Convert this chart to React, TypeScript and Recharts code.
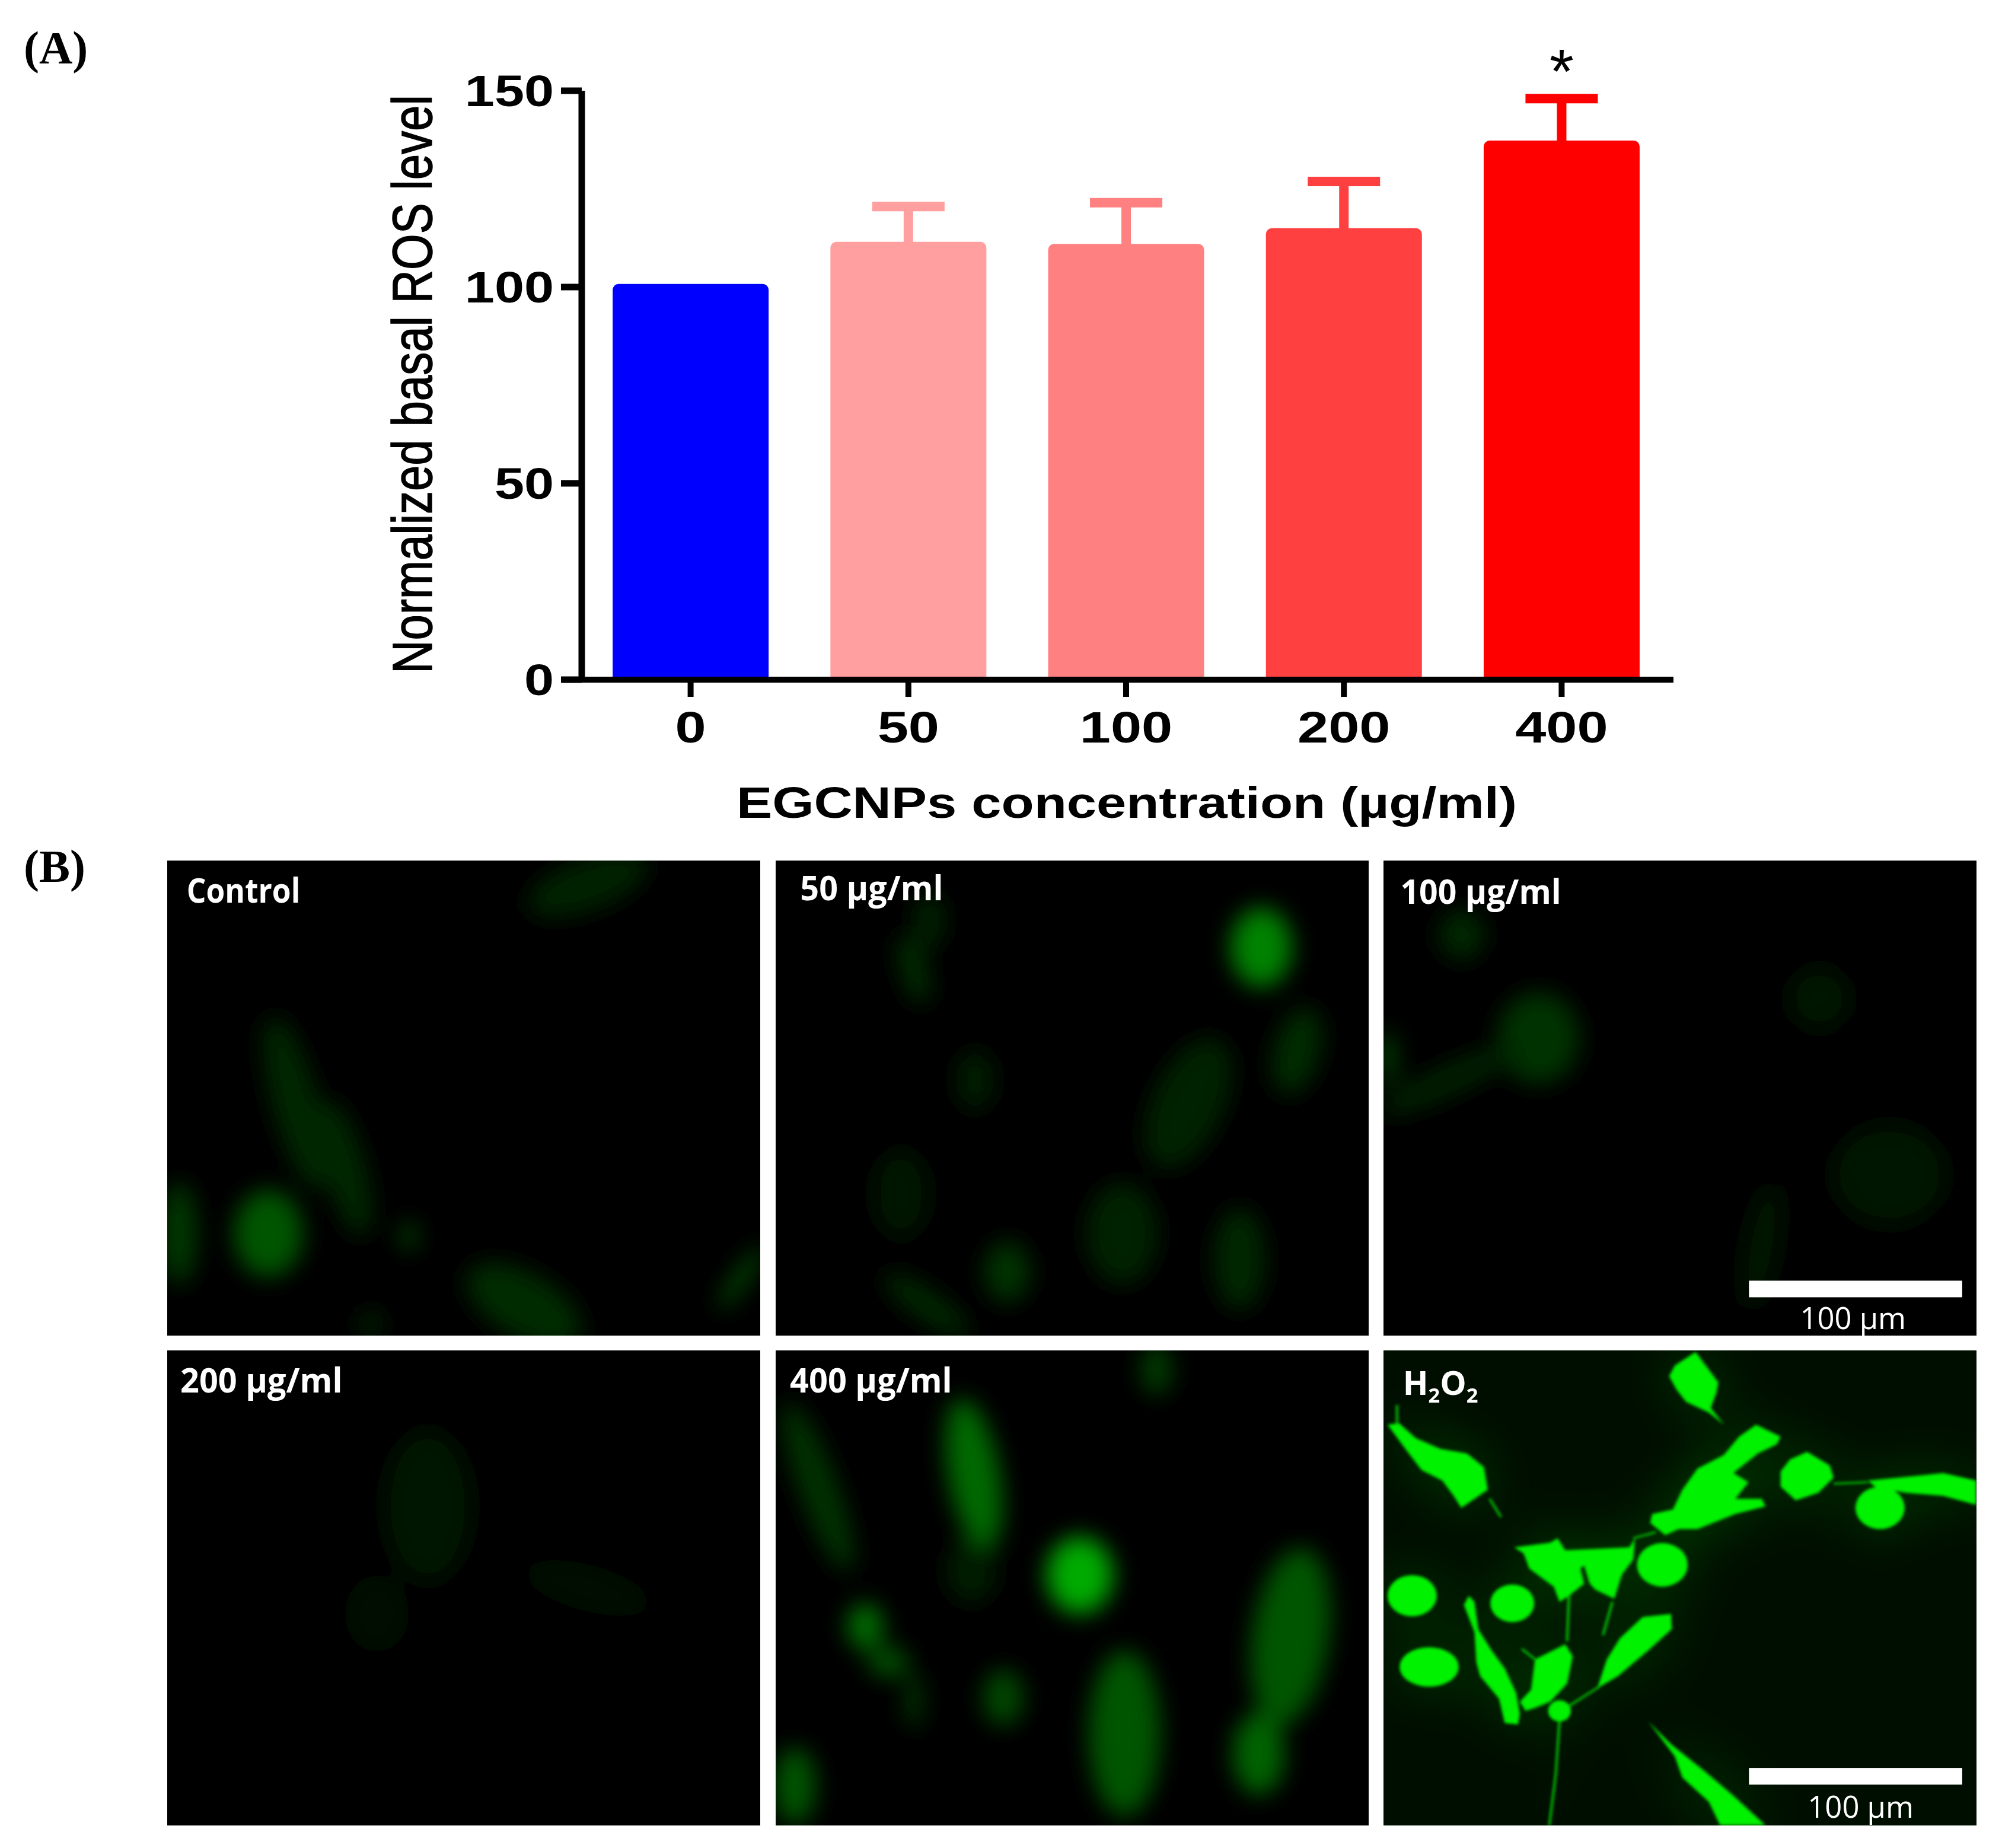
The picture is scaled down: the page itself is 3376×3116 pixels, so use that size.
import { BarChart, Bar, XAxis, YAxis, ErrorBar, Label, ReferenceDot } from "recharts";

const categories = ["0", "50", "100", "200", "400"];
const meanValues = [100.8, 111.5, 111, 115, 137.3];
const errorValues = [0, 9, 10.5, 11.9, 10.7];
const barColors = ["#0000ff", "#ff9f9f", "#ff8080", "#ff4040", "#ff0000"];
const yTicks = [0, 50, 100, 150];

const rows = categories.map((name, i) => ({
  name,
  [`v${i}`]: meanValues[i],
  [`e${i}`]: errorValues[i],
}));

const SANS = "'Liberation Sans', Arial, sans-serif";
const SERIF = "'Liberation Serif', serif";
const LABEL = "'Open Sans', sans-serif";
const BRIGHT = "#00f200";

// micrograph stand-ins: [cx, cy, rx, ry, rotation, green level], panel-local units
type Blob = number[];
const controlCells: Blob[] = [
  [79, 292, 27, 34, 0, 85], [100, 190, 18, 70, -15, 38], [139, 241, 16, 55, -15, 40],
  [9, 292, 14, 40, 0, 55], [189, 294, 6, 12, 0, 70], [279, 348, 50, 25, 30, 42],
  [329, 19, 50, 20, -20, 36], [449, 327, 6, 30, 35, 70], [159, 363, 8, 10, 0, 42],
];
const fiftyCells: Blob[] = [
  [380, 68, 24, 31, 0, 130], [108, 85, 10, 28, -15, 45], [120, 47, 12, 22, 0, 35],
  [156, 172, 15, 24, 0, 30], [323, 190, 28, 55, 25, 32], [408, 149, 18, 35, 15, 42],
  [271, 292, 28, 40, 0, 36], [363, 312, 20, 40, 0, 40], [181, 322, 18, 24, 0, 48],
  [118, 348, 40, 12, 35, 38], [98, 261, 22, 35, 0, 22],
];
const hundredCells: Blob[] = [
  [121, 139, 32, 36, 0, 50], [61, 58, 18, 20, 0, 38], [51, 172, 60, 12, -25, 32],
  [341, 108, 24, 25, 0, 20], [396, 246, 45, 40, 0, 22], [3, 154, 4, 20, 0, 110],
  [296, 302, 14, 50, 10, 20],
];
const twoHundredCells: Blob[] = [
  [204, 122, 35, 60, 0, 18], [329, 186, 50, 18, 15, 14], [164, 206, 25, 30, 0, 12],
];
const fourHundredCells: Blob[] = [
  [238, 176, 26, 30, 0, 170], [155, 97, 20, 60, -10, 105], [33, 107, 15, 70, -20, 48],
  [70, 216, 14, 18, 0, 110], [88, 244, 16, 12, 0, 80], [108, 274, 6, 22, 0, 60],
  [178, 272, 16, 22, 0, 70], [273, 300, 28, 65, 0, 85], [378, 316, 20, 32, 0, 100],
  [403, 224, 30, 70, 8, 85], [15, 341, 16, 30, 0, 85], [298, 15, 12, 20, 0, 60],
  [153, 173, 20, 25, 0, 28],
];

// H2O2 cells, in a 1568x1568 frame
const peroxideShapes = [
  "825,5 885,105 880,140 865,190 900,245 860,205 800,170 775,130 755,85 770,50",
  "10,245 40,240 85,290 150,325 220,340 265,385 275,460 240,490 205,520 185,480 155,430 100,395 60,330",
  "940,285 985,245 1050,285 1040,310 990,340 925,405 965,435 930,490 1000,490 1010,515 930,540 830,590 780,590 745,610 705,570 710,540 765,525 790,460 830,390 900,345",
  "1120,335 1180,380 1190,420 1150,470 1090,495 1050,450 1050,400 1075,360",
  "1280,430 1400,415 1480,405 1568,430 1568,510 1480,480 1380,470 1300,450",
  "345,650 440,635 460,620 480,660 650,650 665,620 660,690 630,740 610,820 560,790 545,770 530,710 520,720 530,770 490,810 465,830 450,780 385,720 370,670",
  "225,810 240,830 250,920 285,990 320,1050 350,1130 360,1200 355,1235 320,1230 305,1150 255,1075 245,1030 240,930 212,840",
  "480,970 500,1010 485,1100 440,1160 400,1180 375,1190 360,1160 390,1120 400,1020",
  "760,870 762,920 700,990 620,1075 565,1115 590,1020 625,950 685,880",
  "700,1225 760,1300 850,1390 925,1470 1010,1568 890,1568 860,1490 790,1410 770,1340",
];
const peroxideRounds = [
  [1313, 520, 65, 70], [737, 708, 67, 72], [75, 810, 65, 68], [340, 835, 58, 62], [120, 1045, 78, 65], [465, 1190, 30, 35],
];
const peroxideThreads = [
  "465,1220 455,1400 438,1568", "490,810 485,960", "605,830 580,940", "400,1020 365,985",
  "570,1110 470,1190", "660,620 720,600", "1190,440 1280,435", "280,490 310,550", "35,240 35,180",
];

function Panel({ left, top, id, cells = [], art, blur = 9, bg = "#000", children }: any) {
  return (
    <svg
      width={1000}
      height={801}
      viewBox="0 0 464 372"
      overflow="visible"
      style={{ position: "absolute", left, top, background: bg }}
    >
      <defs>
        <clipPath id={`${id}c`}>
          <rect width={464} height={372} />
        </clipPath>
        <filter id={id} x="-50%" y="-50%" width="200%" height="200%">
          <feGaussianBlur stdDeviation={blur} />
        </filter>
      </defs>
      <g clipPath={`url(#${id}c)`}>
        <g filter={`url(#${id})`}>
          {cells.map((c: Blob, i: number) => (
            <ellipse
              key={i}
              cx={c[0]}
              cy={c[1]}
              rx={c[2]}
              ry={c[3]}
              transform={`rotate(${c[4]} ${c[0]} ${c[1]})`}
              fill={`rgb(0,${c[5]},0)`}
            />
          ))}
        </g>
        {art}
      </g>
      {children}
    </svg>
  );
}

function PeroxideCells() {
  const shapes = (
    <g transform="scale(0.296,0.2372)" fill={BRIGHT}>
      {peroxideShapes.map((p, i) => (
        <polygon key={i} points={p} />
      ))}
      {peroxideRounds.map((r, i) => (
        <ellipse key={i} cx={r[0]} cy={r[1]} rx={r[2]} ry={r[3]} />
      ))}
      {peroxideThreads.map((p, i) => (
        <polyline key={i} points={p} fill="none" stroke={BRIGHT} strokeWidth={5} />
      ))}
    </g>
  );
  return (
    <>
      <defs>
        <filter id="halo" x="-30%" y="-30%" width="160%" height="160%">
          <feGaussianBlur stdDeviation={22} />
        </filter>
        <filter id="edge" x="-10%" y="-10%" width="120%" height="120%">
          <feGaussianBlur stdDeviation={1.3} />
        </filter>
      </defs>
      <g filter="url(#halo)" opacity={0.25}>{shapes}</g>
      <g filter="url(#edge)">{shapes}</g>
    </>
  );
}

function PanelLabel({ x, y = 33, width, children }: any) {
  return (
    <text x={x} y={y} fill="#fff" fontFamily={LABEL} fontWeight={700} fontSize={27} textLength={width} lengthAdjust="spacingAndGlyphs">
      {children}
    </text>
  );
}

function ScaleBar({ y, labelX, labelY }: any) {
  return (
    <>
      <rect x={286} y={y} width={167} height={13} fill="#fff" />
      <text x={labelX} y={labelY} fill="#fff" fontFamily={LABEL} fontSize={24} textLength={83} lengthAdjust="spacingAndGlyphs">
        100 µm
      </text>
    </>
  );
}

function YTick({ x, y, payload }: any) {
  return (
    <text
      transform={`translate(${x - 10},${y + 26}) scale(1.2,1)`}
      textAnchor="end"
      fontFamily={SANS}
      fontWeight={700}
      fontSize={75}
      fill="#000"
    >
      {payload.value}
    </text>
  );
}

function XTick({ x, y, payload }: any) {
  return (
    <text
      transform={`translate(${x},${y + 75}) scale(1.25,1)`}
      textAnchor="middle"
      fontFamily={SANS}
      fontWeight={700}
      fontSize={75}
      fill="#000"
    >
      {payload.value}
    </text>
  );
}

export default function App() {
  return (
    <div style={{ position: "absolute", left: 0, top: 0, width: 3376, height: 3116, background: "#fff", overflow: "hidden" }}>
      <svg width={280} height={1600} style={{ position: "absolute", left: 0, top: 0 }}>
        <text x={40} y={107} fontFamily={SERIF} fontWeight={700} fontSize={78}>(A)</text>
        <text x={40} y={1487} fontFamily={SERIF} fontWeight={700} fontSize={78}>(B)</text>
      </svg>

      <div style={{ position: "absolute", left: 0, top: 0 }}>
        <BarChart
          width={3376}
          height={1400}
          data={rows}
          margin={{ top: 153, right: 554, bottom: 0, left: 781 }}
          barCategoryGap="14.2%"
        >
          <XAxis
            dataKey="name"
            height={254}
            tickSize={29}
            stroke="#000"
            strokeWidth={10}
            tick={<XTick />}
            interval={0}
            padding={{ left: 0, right: 5 }}
          >
            <Label
              content={() => (
                <text x={1242} y={1379} fontFamily={SANS} fontWeight={700} fontSize={75} fill="#000" textLength={1316} lengthAdjust="spacingAndGlyphs">
                  EGCNPs concentration (µg/ml)
                </text>
              )}
            />
          </XAxis>
          <YAxis
            width={200}
            domain={[0, 150]}
            ticks={yTicks}
            tickSize={35}
            stroke="#000"
            strokeWidth={11}
            tick={<YTick />}
          >
            <Label
              content={() => (
                <text
                  transform="translate(728,648) rotate(-90) scale(0.83,1)"
                  textAnchor="middle"
                  fontFamily={SANS}
                  fontSize={94}
                  fill="#000"
                  stroke="#000"
                  strokeWidth={1.5}
                >
                  Normalized basal ROS level
                </text>
              )}
            />
          </YAxis>
          {categories.map((_, i) => (
            <Bar
              key={i}
              dataKey={`v${i}`}
              stackId="a"
              fill={barColors[i]}
              radius={[10, 10, 0, 0]}
              isAnimationActive={false}
            >
              {errorValues[i] > 0 && (
                <ErrorBar dataKey={`e${i}`} direction="y" width={61} stroke={barColors[i]} strokeWidth={16} isAnimationActive={false} />
              )}
            </Bar>
          ))}
          <ReferenceDot
            x="400"
            y={155}
            r={0}
            ifOverflow="visible"
            label={{ value: "*", position: "center", fontFamily: SANS, fontSize: 105, fill: "#000" }}
          />
        </BarChart>
      </div>

      <Panel left={282} top={1451} id="p1" cells={controlCells}>
        <PanelLabel x={15} width={89}>Control</PanelLabel>
      </Panel>
      <Panel left={1308} top={1451} id="p2" cells={fiftyCells}>
        <PanelLabel x={19} y={31} width={112}>50 µg/ml</PanelLabel>
      </Panel>
      <Panel left={2333} top={1451} id="p3" cells={hundredCells}>
        <PanelLabel x={13} y={34} width={126}>100 µg/ml</PanelLabel>
        <ScaleBar y={329} labelX={326} labelY={367} />
      </Panel>
      <Panel left={282} top={2277} id="p4" cells={twoHundredCells}>
        <PanelLabel x={10} width={127}>200 µg/ml</PanelLabel>
      </Panel>
      <Panel left={1308} top={2277} id="p5" cells={fourHundredCells}>
        <PanelLabel x={11} width={127}>400 µg/ml</PanelLabel>
      </Panel>
      <Panel left={2333} top={2277} id="p6" bg="#000e00" art={<PeroxideCells />}>
        <text x={15} y={35} fill="#fff" fontFamily={LABEL} fontWeight={700} fontSize={26}>
          H<tspan fontSize={16} dy={6}>2</tspan>
          <tspan dy={-6}>O</tspan>
          <tspan fontSize={16} dy={6}>2</tspan>
        </text>
        <ScaleBar y={327} labelX={332} labelY={366} />
      </Panel>
    </div>
  );
}
